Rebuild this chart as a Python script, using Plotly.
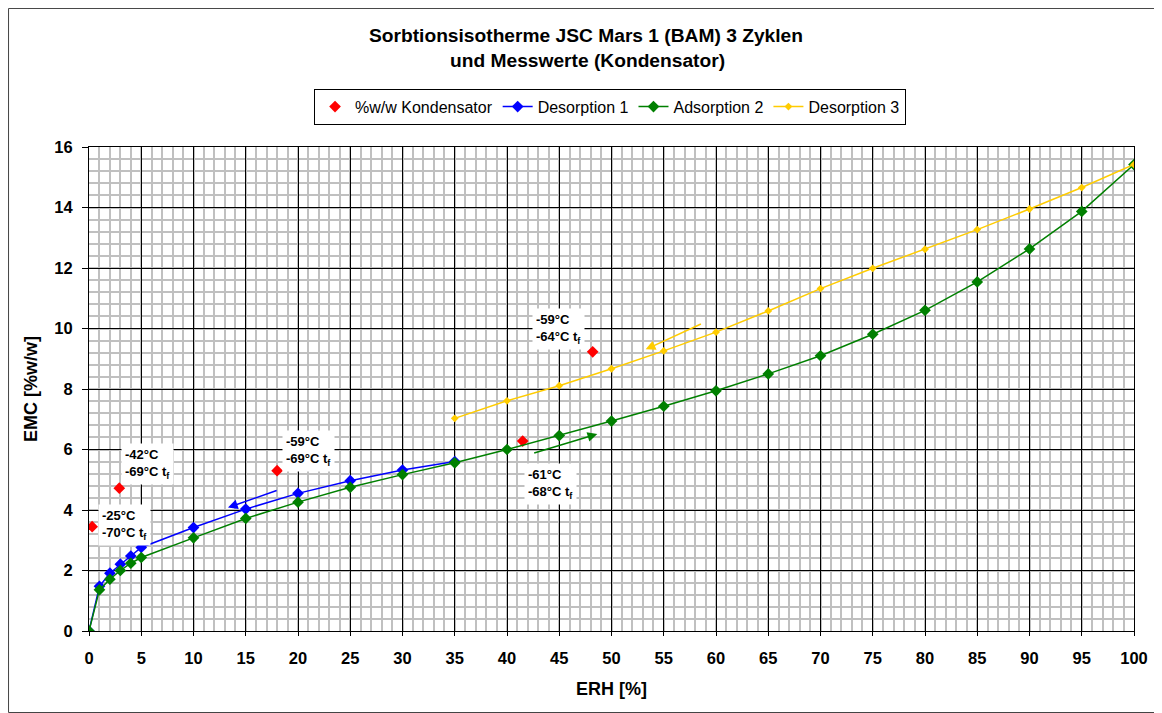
import plotly.graph_objects as go

# ---- data ----
erh_des1 = [0, 1, 2, 3, 4, 5, 10, 15, 20, 25, 30, 35]
emc_des1 = [0, 1.48, 1.91, 2.21, 2.48, 2.76, 3.42, 4.03, 4.55, 4.97, 5.32, 5.6]

erh_ads2 = [0, 1, 2, 3, 4, 5, 10, 15, 20, 25, 30, 35, 40, 45, 50, 55, 60, 65, 70, 75, 80, 85, 90, 95, 100]
emc_ads2 = [0, 1.36, 1.71, 2.0, 2.24, 2.43, 3.08, 3.72, 4.26, 4.75, 5.17, 5.56, 6.0, 6.46, 6.94,
            7.43, 7.94, 8.5, 9.1, 9.81, 10.6, 11.54, 12.63, 13.87, 15.42]

erh_des3 = [35, 40, 45, 50, 55, 60, 65, 70, 75, 80, 85, 90, 95, 100]
emc_des3 = [7.03, 7.61, 8.11, 8.67, 9.26, 9.88, 10.58, 11.32, 11.99, 12.62, 13.27, 13.95, 14.66, 15.42]

erh_kond = [0.3, 2.9, 18.0, 41.5, 48.2]
emc_kond = [3.45, 4.72, 5.3, 6.28, 9.23]

label_x = [3.4, 5.6, 21.05, 44.9, 44.2]
label_y = [3.5, 5.52, 5.95, 9.98, 4.86]
label_text = ["-25°C<br>-70°C t<sub>f</sub>", "-42°C<br>-69°C t<sub>f</sub>",
              "-59°C<br>-69°C t<sub>f</sub>", "-59°C<br>-64°C t<sub>f</sub>",
              "-61°C<br>-68°C t<sub>f</sub>"]

title_lines = ["Sorbtionsisotherme JSC Mars 1 (BAM) 3 Zyklen", "und Messwerte (Kondensator)"]

# arrows: (tail x, tail y, head x, head y, colour)
arrows = [
    (18.1, 4.66, 13.3, 4.08, "#0000ff"),
    (58.7, 10.17, 53.27, 9.31, "#ffcc00"),
    (42.46, 5.87, 48.64, 6.51, "#008000"),
]

x_ticks = list(range(0, 101, 5))
y_ticks = list(range(0, 17, 2))

fig = go.Figure()
fig.add_trace(go.Scatter(x=erh_kond, y=emc_kond, mode="markers", name="%w/w Kondensator",
                         marker=dict(symbol="diamond", color="#ff0000", size=9)))
fig.add_trace(go.Scatter(x=erh_des1, y=emc_des1, mode="lines+markers", name="Desorption 1",
                         line=dict(color="#0000ff", width=1.5),
                         marker=dict(symbol="diamond", color="#0000ff", size=9)))
fig.add_trace(go.Scatter(x=erh_ads2, y=emc_ads2, mode="lines+markers", name="Adsorption 2",
                         line=dict(color="#008000", width=1.5),
                         marker=dict(symbol="diamond", color="#008000", size=9)))
fig.add_trace(go.Scatter(x=erh_des3, y=emc_des3, mode="lines+markers", name="Desorption 3",
                         line=dict(color="#ffcc00", width=1.5),
                         marker=dict(symbol="diamond", color="#ffcc00", size=6)))

for tx, ty, hx, hy, c in arrows:
    fig.add_annotation(x=hx, y=hy, ax=tx, ay=ty, xref="x", yref="y", axref="x", ayref="y",
                       showarrow=True, arrowhead=2, arrowsize=1.3, arrowwidth=1.5,
                       arrowcolor=c, text="")

for lx, ly, lt in zip(label_x, label_y, label_text):
    fig.add_annotation(x=lx, y=ly, xref="x", yref="y", text=lt, showarrow=False,
                       align="left", bgcolor="white", borderpad=3,
                       font=dict(family="Arial", size=13, color="black", weight="bold"))

for tx_, ty_, tl in zip([0.4756, 0.4775], [1.2297, 1.1787], title_lines):
    fig.add_annotation(x=tx_, y=ty_, xref="paper", yref="paper", text=tl, showarrow=False,
                       xanchor="center", yanchor="middle",
                       font=dict(family="Arial", size=19.2, color="black", weight="bold"))

fig.update_layout(
    width=1154, height=705,
    margin=dict(l=81, r=28, t=139, b=82),
    paper_bgcolor="white", plot_bgcolor="white",
    font=dict(family="Arial", color="black"),
    legend=dict(orientation="h", x=0.4986, xanchor="center", y=1.0833, yanchor="middle",
                bordercolor="black", borderwidth=1, bgcolor="white",
                font=dict(family="Arial", size=16, color="black"),
                itemwidth=30, tracegroupgap=0),
    showlegend=True,
    shapes=[dict(type="rect", xref="paper", yref="paper", x0=-0.0770, x1=1.0258, y0=-0.1684, y1=1.2862,
                 line=dict(color="#444444", width=1), layer="below")],
)

fig.update_xaxes(range=[0, 100], tickmode="array", tickvals=x_ticks, ticktext=[str(v) for v in x_ticks],
                 showgrid=True, gridcolor="black", gridwidth=1,
                 minor=dict(dtick=1, showgrid=True, gridcolor="#c0c0c0", gridwidth=2),
                 showline=True, linecolor="black", linewidth=1, mirror=True,
                 ticks="outside", ticklen=4, tickcolor="black", zeroline=False,
                 ticklabelstandoff=8,
                 tickfont=dict(family="Arial", size=16.5, color="black", weight="bold"),
                 title=dict(text="ERH [%]", standoff=16,
                            font=dict(family="Arial", size=18, color="black", weight="bold")))
fig.update_yaxes(range=[0, 16], tickmode="array", tickvals=y_ticks, ticktext=[str(v) for v in y_ticks],
                 showgrid=True, gridcolor="black", gridwidth=1,
                 minor=dict(dtick=0.4, showgrid=True, gridcolor="#c0c0c0", gridwidth=2),
                 showline=True, linecolor="black", linewidth=1, mirror=True,
                 ticks="outside", ticklen=6, tickcolor="black", zeroline=False,
                 ticklabelstandoff=6,
                 tickfont=dict(family="Arial", size=16.5, color="black", weight="bold"),
                 title=dict(text="EMC [%w/w]", standoff=12,
                            font=dict(family="Arial", size=18, color="black", weight="bold")))

fig.write_html("out.html")
